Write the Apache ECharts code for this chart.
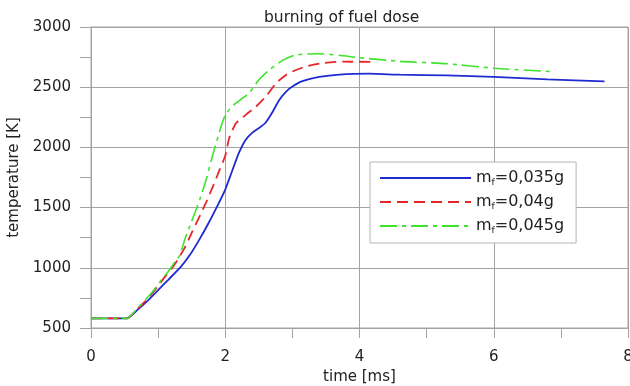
<!DOCTYPE html>
<html>
<head>
<meta charset="utf-8">
<script src="https://cdn.jsdelivr.net/npm/echarts@6/dist/echarts.min.js"></script>
<style>
  html, body { margin: 0; padding: 0; background: #fff; }
  #chart { width: 630px; height: 386px; }
</style>
</head>
<body>
<div id="chart"></div>
<script>
// Gas temperature during burning of a fuel dose, for three fuel masses
var seriesNames = ['0,035g', '0,04g', '0,045g'];

var time035 = [0, 0.5, 0.55, 0.7, 0.85, 1.0, 1.15, 1.34, 1.5, 1.62, 1.75, 1.87, 2.0, 2.1, 2.2, 2.3, 2.4, 2.5, 2.6, 2.7, 2.8, 2.9, 3.0, 3.15, 3.4, 3.7, 4.15, 4.6, 5.3, 6.0, 6.8, 7.65];
var temp035 = [580, 580, 582, 655, 730, 815, 900, 1010, 1130, 1240, 1370, 1500, 1650, 1800, 1950, 2060, 2120, 2160, 2205, 2290, 2390, 2460, 2505, 2550, 2585, 2605, 2612, 2604, 2598, 2585, 2565, 2548];

var time040 = [0, 0.5, 0.55, 0.7, 0.87, 1.0, 1.1, 1.21, 1.3, 1.4, 1.5, 1.62, 1.72, 1.82, 1.92, 2.0, 2.06, 2.16, 2.31, 2.46, 2.61, 2.76, 2.9, 3.0, 3.2, 3.45, 3.75, 4.25];
var temp040 = [580, 580, 582, 662, 760, 850, 925, 1000, 1075, 1170, 1290, 1430, 1550, 1680, 1820, 1930, 2080, 2200, 2272, 2340, 2425, 2535, 2600, 2630, 2672, 2700, 2712, 2710];

var time045 = [0, 0.5, 0.55, 0.7, 0.9, 1.05, 1.17, 1.27, 1.32, 1.4, 1.47, 1.55, 1.62, 1.72, 1.81, 1.92, 2.0, 2.1, 2.2, 2.36, 2.5, 2.66, 2.86, 3.05, 3.4, 3.7, 4.0, 4.6, 5.3, 6.0, 6.85];
var temp045 = [580, 580, 582, 668, 790, 900, 984, 1067, 1100, 1240, 1344, 1460, 1566, 1740, 1930, 2140, 2270, 2340, 2385, 2455, 2560, 2645, 2725, 2768, 2778, 2765, 2745, 2715, 2695, 2658, 2630];

var xTicks = [0, 2, 4, 6, 8];
var yTicks = [500, 1000, 1500, 2000, 2500, 3000];

function pairs(xs, ys) {
  return xs.map(function (x, i) { return [x, ys[i]]; });
}

var FONT = 'DejaVu Sans';
var gridColor = '#a3a3a3';
var textColor = '#222';

var chart = echarts.init(document.getElementById('chart'));

chart.setOption({
  animation: false,
  backgroundColor: '#ffffff',
  textStyle: { fontFamily: FONT },
  title: {
    text: 'burning of fuel dose',
    left: 259,
    top: 5,
    textStyle: { fontFamily: FONT, fontSize: 15.5, fontWeight: 'normal', color: textColor }
  },
  grid: {
    left: 91,
    right: 2,
    top: 27,
    bottom: 58,
    outerBoundsMode: 'none',
    containLabel: false,
    show: true,
    borderColor: gridColor,
    borderWidth: 1
  },
  legend: {
    orient: 'vertical',
    left: 370,
    top: 162,
    padding: [8, 12, 8, 9],
    itemGap: 7,
    itemWidth: 91,
    itemHeight: 14,
    backgroundColor: '#ffffff',
    borderColor: '#b5b5b5',
    borderWidth: 1,
    borderRadius: 0,
    data: seriesNames,
    itemStyle: { color: 'rgba(0,0,0,0)', borderWidth: 0, opacity: 0 },
    formatter: function (name) {
      return '{m|m}{f|f}{r|=' + name + '}';
    },
    textStyle: {
      color: textColor,
      fontFamily: FONT,
      fontSize: 16,
      rich: {
        m: { fontFamily: FONT, fontSize: 16, lineHeight: 18, color: textColor },
        f: { fontFamily: FONT, fontSize: 9, lineHeight: 18, verticalAlign: 'bottom', color: textColor },
        r: { fontFamily: FONT, fontSize: 16, lineHeight: 18, color: textColor }
      }
    }
  },
  xAxis: {
    type: 'value',
    min: xTicks[0],
    max: xTicks[xTicks.length - 1],
    interval: 2,
    name: 'time [ms]',
    nameLocation: 'middle',
    nameGap: 37,
    nameTextStyle: { fontFamily: FONT, fontSize: 15, color: textColor },
    axisLine: { show: true, lineStyle: { color: gridColor, width: 1 } },
    axisTick: { show: true, length: 10, lineStyle: { color: gridColor } },
    minorTick: { show: true, splitNumber: 2, length: 10, lineStyle: { color: gridColor } },
    axisLabel: {
      margin: 22, fontFamily: FONT, fontSize: 15, color: textColor,
      formatter: function (v) { return String(v); }
    },
    splitLine: { show: true, lineStyle: { color: gridColor, width: 1 } }
  },
  yAxis: {
    type: 'value',
    min: yTicks[0],
    max: yTicks[yTicks.length - 1],
    interval: 500,
    name: 'temperature [K]',
    nameLocation: 'middle',
    nameGap: 66,
    nameTextStyle: { fontFamily: FONT, fontSize: 15, color: textColor },
    axisLine: { show: true, lineStyle: { color: gridColor, width: 1 } },
    axisTick: { show: true, length: 11, lineStyle: { color: gridColor } },
    minorTick: { show: true, splitNumber: 2, length: 11, lineStyle: { color: gridColor } },
    axisLabel: {
      margin: 20, fontFamily: FONT, fontSize: 15, color: textColor,
      formatter: function (v) { return String(v); }
    },
    splitLine: { show: true, lineStyle: { color: gridColor, width: 1 } }
  },
  series: [
    {
      name: seriesNames[0],
      type: 'line',
      symbol: 'none',
      smooth: 0.2,
      data: pairs(time035, temp035),
      lineStyle: { color: '#1f2bd0', width: 1.8, type: 'solid' },
      itemStyle: { color: '#1f2bd0' },
      z: 3
    },
    {
      name: seriesNames[1],
      type: 'line',
      symbol: 'none',
      smooth: 0.2,
      data: pairs(time040, temp040),
      lineStyle: { color: '#e5262a', width: 1.8, type: [11, 6] },
      itemStyle: { color: '#e5262a' },
      z: 4
    },
    {
      name: seriesNames[2],
      type: 'line',
      symbol: 'none',
      smooth: 0.2,
      data: pairs(time045, temp045),
      lineStyle: { color: '#3ee42c', width: 1.6, type: [17, 5, 4, 5] },
      itemStyle: { color: '#3ee42c' },
      z: 5
    }
  ]
});
</script>
</body>
</html>
